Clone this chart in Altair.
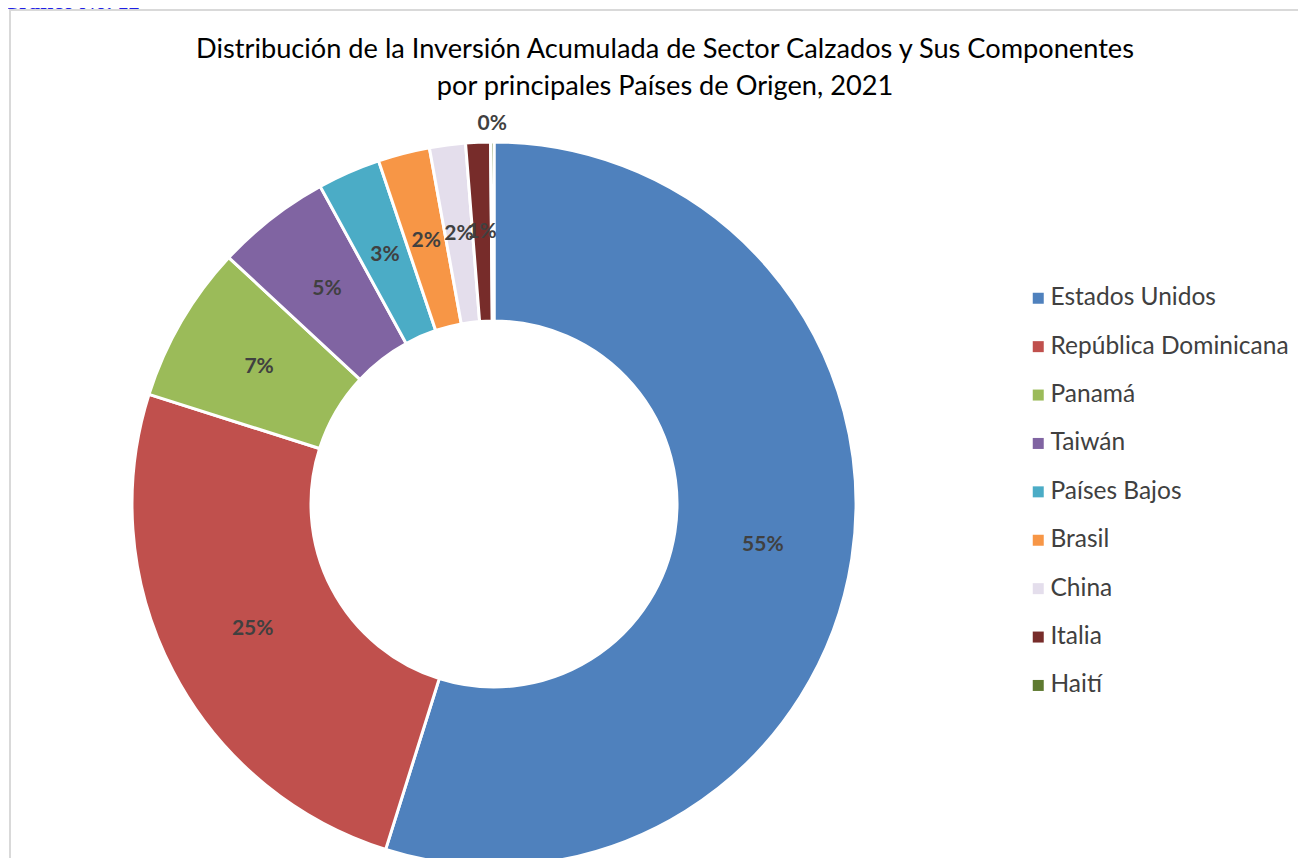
import altair as alt
import pandas as pd

# ---- data ----
countries = ["Estados Unidos", "República Dominicana", "Panamá", "Taiwán",
             "Países Bajos", "Brasil", "China", "Italia", "Haití"]
shares = [54.7, 25.0, 7.0, 5.1, 2.8, 2.3, 1.6, 1.1, 0.15]
pct_labels = ["55%", "25%", "7%", "5%", "3%", "2%", "2%", "1%", "0%"]
colors = ["#4F81BD", "#C0504D", "#9BBB59", "#8064A2", "#4BACC6",
          "#F79646", "#E4DEEC", "#772C2A", "#5E7A30"]
title_lines = ["Distribución de la Inversión Acumulada de Sector Calzados y Sus Componentes",
               "por principales Países de Origen, 2021"]
header_text = "Gráfico No. 12"

df = pd.DataFrame({
    "idx": list(range(len(countries))),
    "pais": countries,
    "valor": shares,
    "etiqueta": pct_labels,
    "fuera": [c == "Haití" for c in countries],
})

W, H = 1290, 850
CX, CY = 486, 496
FONT = "Lato"

color_scale = alt.Scale(domain=countries, range=colors)

base = alt.Chart(df).encode(
    theta=alt.Theta("valor:Q", stack=True),
    order=alt.Order("idx:Q", sort="ascending"),
)

arcs = base.mark_arc(
    innerRadius=183, outerRadius=362, stroke="white", strokeWidth=3
).encode(
    x=alt.value(CX), y=alt.value(CY),
    color=alt.Color("pais:N", scale=color_scale, sort=countries,
                    legend=alt.Legend(title=None, orient="none",
                                      legendX=1018, legendY=278,
                                      symbolType="square", symbolSize=121,
                                      symbolStrokeWidth=0,
                                      labelFont=FONT, labelFontSize=24.5,
                                      labelColor="#404040", labelOffset=0,
                                      labelLimit=400,
                                      rowPadding=23.4)),
)

labels_in = base.mark_text(
    font=FONT, fontSize=21, fontWeight="bold", color="#404040",
    align="center", baseline="middle"
).encode(
    x=alt.value(CX), y=alt.value(CY),
    radius=alt.value(272),
    detail="pais:N",
    text="etiqueta:N",
    opacity=alt.condition("datum.fuera", alt.value(0), alt.value(1)),
)

labels_out = base.mark_text(
    font=FONT, fontSize=21, fontWeight="bold", color="#404040",
    align="center", baseline="middle"
).encode(
    x=alt.value(CX), y=alt.value(CY),
    radius=alt.value(380),
    detail="pais:N",
    text="etiqueta:N",
    opacity=alt.condition("datum.fuera", alt.value(1), alt.value(0)),
)

title_df = pd.DataFrame({"t": title_lines, "row": [0, 1]})
title = alt.Chart(title_df).mark_text(
    font=FONT, fontSize=27.2, color="#000000", align="center",
    baseline="alphabetic"
).encode(
    x=alt.value(657),
    y=alt.Y("row:Q", scale=alt.Scale(domain=[0, 1], range=[50, 87]), axis=None),
    text="t:N",
)

header = alt.Chart(pd.DataFrame({"t": [header_text]})).mark_text(
    font="Liberation Serif", fontSize=22, fontWeight="bold", color="#1F1FE6",
    align="left", baseline="alphabetic"
).encode(x=alt.value(-6), y=alt.value(1), text="t:N")

frame = alt.Chart(pd.DataFrame({"k": [1]})).mark_rect(
    fill=None, stroke="#D9D9D9", strokeWidth=2
).encode(
    x=alt.value(2), x2=alt.value(W + 40),
    y=alt.value(2), y2=alt.value(H + 40),
)

chart = alt.layer(frame, arcs, labels_in, labels_out, title, header).properties(
    width=W, height=H,
    autosize=alt.AutoSizeParams(type="none"),
    padding=0,
).configure_view(stroke=None)

chart.save("out.html", embed_options={"renderer": "svg", "actions": False})
